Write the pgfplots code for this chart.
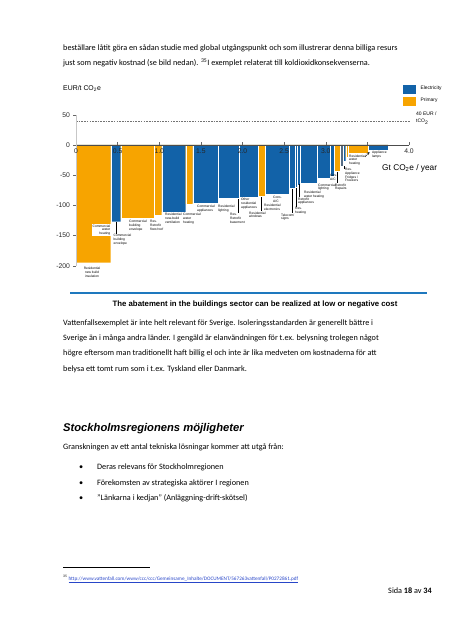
\documentclass[border=0pt]{standalone}
\usepackage{fontspec}
\setmainfont{Carlito}
\newfontfamily\arial{Liberation Sans}
\usepackage{pgfplots}
\pgfplotsset{compat=1.18}
\definecolor{elblue}{RGB}{18,98,168}
\definecolor{primorange}{RGB}{247,164,0}
\definecolor{slate}{RGB}{84,108,132}
\definecolor{rulecol}{RGB}{30,120,190}
\definecolor{linkcol}{RGB}{40,70,200}
\newcommand{\body}{\fontsize{8.2}{9}\selectfont}
\newcommand{\barlbl}{\arial\fontsize{3.3}{3.8}\selectfont}
\begin{document}
\begin{tikzpicture}
\useasboundingbox (0,0) rectangle (452pt,-640pt);
\begin{axis}[
  at={(76pt,-265.7pt)}, anchor=south west,
  scale only axis, width=333pt, height=150.9pt,
  xmin=0, xmax=4, ymin=-200, ymax=50,
  clip=false, axis on top,
  axis x line=middle, axis y line=left,
  axis line style={-},
  x axis line style={draw=black!70, line width=0.5pt},
  y axis line style={draw=black!22, line width=0.7pt},
  hide obscured x ticks=false, hide obscured y ticks=false,
  x tick label as interval=false,
  xtick={0,0.5,1,1.5,2,2.5,3,3.5,4},
  xticklabels={0,0.5,1.0,1.5,2.0,2.5,3.0,,4.0},
  ytick={-200,-150,-100,-50,0,50},
  yticklabels={-200,-150,-100,-50,0,50},
  tick align=center,
  major tick length=3pt,
  tick style={black!60, line width=0.4pt},
  x tick style={yshift=1.5pt},
  y tick style={xshift=-1.5pt},
  ticklabel style={font=\arial\fontsize{6.8}{8}\selectfont, text=black!85},
  y tick label style={xshift=-1pt},
  x tick label style={yshift=1pt},
  legend style={at={(0.982,1.204)}, anchor=north west, draw=none, fill=none,
    font=\arial\fontsize{4.9}{5.5}\selectfont, row sep=3pt, inner sep=0pt,
    cells={anchor=west}},
]
% Electricity (blue) bars, interval edges with values; 0 where another colour
\addplot[ybar interval, fill=elblue, draw=white, line width=0.25pt, forget plot] coordinates {
 (0,0) (0.417,-127) (0.537,0) (0.937,0) (1.029,-111) (1.318,0) (1.402,-96)
 (1.71,-88) (1.96,-86) (2.19,0) (2.27,-82) (2.56,-72) (2.63,-70) (2.66,-66)
 (2.69,-63) (2.90,-55) (3.05,-52) (3.10,0) (3.17,0) (3.21,-27) (3.24,0)
 (3.265,0) (3.51,-8) (3.75,0)};
% Primary (orange) bars
\addplot[ybar interval, fill=primorange, draw=white, line width=0.25pt, forget plot] coordinates {
 (0,-195) (0.417,0) (0.537,-122) (0.937,-117) (1.029,0) (1.318,-98) (1.402,0)
 (1.71,0) (1.96,0) (2.19,-85) (2.27,0) (2.56,0) (2.63,0) (2.66,0)
 (2.69,0) (2.90,0) (3.05,0) (3.10,-44) (3.17,0) (3.21,0) (3.24,-20)
 (3.265,-14) (3.51,0) (3.75,0)};
% single darker electricity bar
\addplot[ybar interval, fill=slate, draw=white, line width=0.25pt, forget plot] coordinates {
 (3.17,-35) (3.21,0)};
% 40 EUR/tCO2 reference line
\addplot[black!55, line width=0.4pt, dash pattern=on 1.6pt off 1.1pt, forget plot] coordinates {(0,40) (4.02,40)};
\addlegendimage{legend image code/.code={\fill[elblue] (0pt,-4pt) rectangle (12pt,4pt);}}
\addlegendentry{\hspace{3pt}Electricity}
\addlegendimage{legend image code/.code={\fill[primorange] (0pt,-4pt) rectangle (12pt,4pt);}}
\addlegendentry{\hspace{3pt}Primary}
\end{axis}
\begin{scope}[x=1pt,y=-1pt]
% running text above chart
\node[anchor=base west, inner sep=0pt] at (63,50) {\body beställare låtit göra en sådan studie med global utgångspunkt och som illustrerar denna billiga resurs};
\node[anchor=base west, inner sep=0pt] at (63,65) {\body just som negativ kostnad (se bild nedan). \textsuperscript{35}I exemplet relaterat till koldioxidkonsekvenserna.};
% chart texts
\node[anchor=west, inner sep=0pt] at (63,88) {\arial\fontsize{6.9}{8}\selectfont EUR/t CO\textsubscript{2}e};
\node[anchor=north west, inner sep=0pt, align=left, font=\arial\fontsize{5}{6.5}\selectfont] at (416,112) {40 EUR /\\tCO\textsubscript{2}};
\node[anchor=west, inner sep=0pt] at (382,168) {\arial\fontsize{8.3}{9}\selectfont Gt CO\textsubscript{2}e / year};
% bar labels
\begin{scope}[every node/.style={inner sep=0pt, align=left, anchor=north west, font=\barlbl}, line width=0.35pt]
\node[anchor=north, align=center] at (92,267) {Residential\\new build\\insulation};
\node[anchor=north east, align=right, fill=white, inner sep=0.6pt] at (111,224) {Commercial\\water\\heating};
\draw (116.5,222) -- (116.5,234);
\node at (113.5,234) {Commercial\\building\\envelope};
\node at (129,220) {Commercial\\building\\envelope};
\node at (150,220) {Res.\\Retrofit\\floor/roof};
\node at (165,213) {Residential\\new-build\\ventilation};
\node at (183,213) {Commercial\\water\\heating};
\node at (197,205) {Commercial\\appliances};
\node at (218,205) {Residential\\lighting};
\draw (238,199) -- (238,213);
\node at (230,213.5) {Res.\\Retrofit\\basement};
\node at (241,198) {Other\\residential\\appliances};
\draw (261,197) -- (261,211);
\node at (249,211.5) {Residential\\windows};
\node at (273,196) {Cons.\\A/C};
\node at (264,204) {Residential\\electronics};
\draw (292,189) -- (292,213);
\node at (281,213.5) {Telecom/\\signs};
\draw (296.3,188) -- (296.3,207);
\node at (295,207.5) {Res.\\heating};
\draw (299,184) -- (299,197);
\node at (298,197.5) {Retrofit\\appliances};
\node at (304,191) {Residential\\water heating};
\node at (318,183.5) {Commercial\\lighting};
\node at (330,174.5) {Gov.\\A/C};
\draw (337,172) -- (337,183);
\node at (335,183.5) {Retrofit\\Repairs};
\draw (344,166) -- (344,169);
\node at (345,168) {Res.\\Appliance\\Fridges /\\Freezers};
\node at (349,154.5) {Residential\\water\\heating};
\draw[-stealth, line width=0.3pt] (365,157) -- (369.5,152);
\node at (372,151) {Appliance\\lamps};
\end{scope}
% rule and caption
\fill[rulecol] (70,292.2) rectangle (427,294.2);
\node[anchor=base, inner sep=0pt] at (255,306) {\arial\bfseries\fontsize{7.8}{9}\selectfont The abatement in the buildings sector can be realized at low or negative cost};
% paragraph
\node[anchor=base west, inner sep=0pt] at (63,325) {\body Vattenfallsexemplet är inte helt relevant för Sverige. Isoleringsstandarden är generellt bättre i};
\node[anchor=base west, inner sep=0pt] at (63,340) {\body Sverige än i många andra länder. I gengäld är elanvändningen för t.ex. belysning trolegen något};
\node[anchor=base west, inner sep=0pt] at (63,355.5) {\body högre eftersom man traditionellt haft billig el och inte är lika medveten om kostnaderna för att};
\node[anchor=base west, inner sep=0pt] at (63,371) {\body belysa ett tomt rum som i t.ex. Tyskland eller Danmark.};
% heading
\node[anchor=base west, inner sep=0pt] at (63,431) {\arial\bfseries\itshape\fontsize{11.2}{12}\selectfont Stockholmsregionens möjligheter};
\node[anchor=base west, inner sep=0pt] at (63,449) {\body Granskningen av ett antal tekniska lösningar kommer att utgå från:};
\node[anchor=base west, inner sep=0pt] at (79,469) {\body •};
\node[anchor=base west, inner sep=0pt] at (97,469) {\body Deras relevans för Stockholmregionen};
\node[anchor=base west, inner sep=0pt] at (79,485) {\body •};
\node[anchor=base west, inner sep=0pt] at (97,485) {\body Förekomsten av strategiska aktörer I regionen};
\node[anchor=base west, inner sep=0pt] at (79,500) {\body •};
\node[anchor=base west, inner sep=0pt] at (97,500) {\body ”Länkarna i kedjan” (Anläggning-drift-skötsel)};
% footnote
\draw[line width=0.4pt] (63,567) -- (150,567);
\node[anchor=base west, inner sep=0pt] at (63,580) {\fontsize{5.2}{6}\selectfont \textsuperscript{35} \color{linkcol}\underline{http://www.vattenfall.com/www/ccc/ccc/Gemeinsame\_Inhalte/DOCUMENT/567263vattenfall/P0272861.pdf}};
\node[anchor=base east, inner sep=0pt] at (432,593) {\body Sida \textbf{18} av \textbf{34}};
\end{scope}
\end{tikzpicture}
\end{document}
